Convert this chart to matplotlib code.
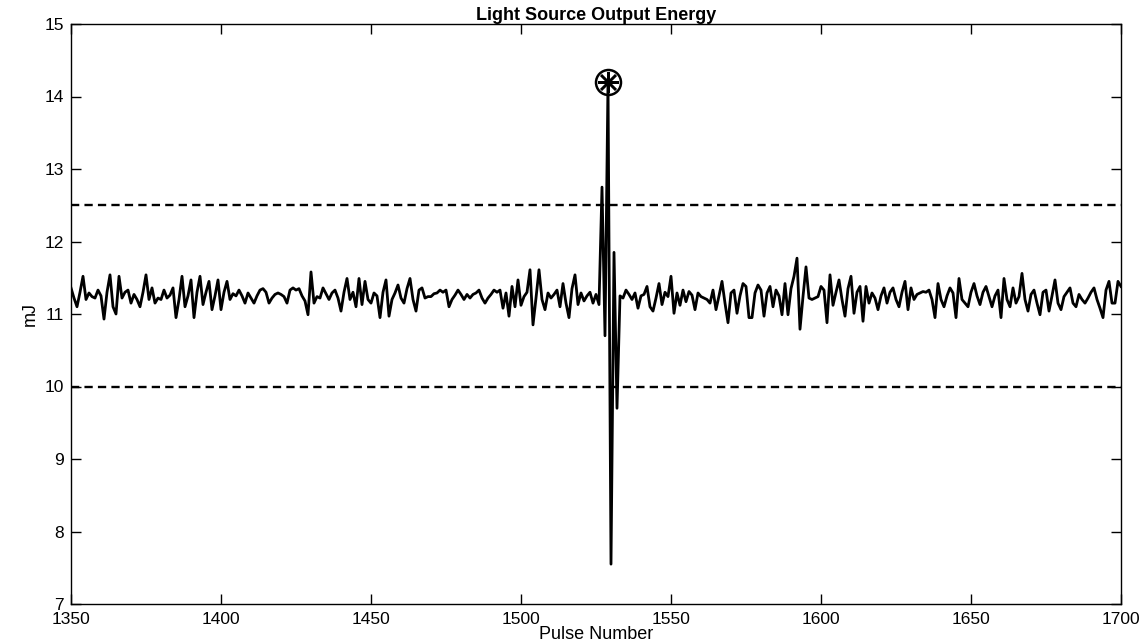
import numpy as np
import matplotlib
matplotlib.use("Agg")
import matplotlib.pyplot as plt

plt.rcParams['font.family'] = ['Liberation Sans', 'DejaVu Sans']

title = "Light Source Output Energy"
xlabel = "Pulse Number"
ylabel = "mJ"
x_start = 1350
upper_limit = 12.5
lower_limit = 10.0
x_ticks = [1350, 1400, 1450, 1500, 1550, 1600, 1650, 1700]
y_ticks = [7, 8, 9, 10, 11, 12, 13, 14, 15]

energy_1350 = [11.36, 11.22, 11.10, 11.30, 11.52, 11.20, 11.29, 11.24, 11.22, 11.33,
               11.25, 10.93, 11.30, 11.54, 11.10, 11.00, 11.52, 11.22, 11.30, 11.33,
               11.15, 11.27, 11.20, 11.10, 11.30, 11.54, 11.20, 11.36, 11.15, 11.22,
               11.20, 11.33, 11.22, 11.26, 11.36, 10.95, 11.20, 11.52, 11.10, 11.25,
               11.47, 10.95, 11.30, 11.52, 11.13, 11.30, 11.45, 11.06, 11.25, 11.47]
energy_1400 = [11.06, 11.30, 11.45, 11.20, 11.28, 11.25, 11.33, 11.25, 11.15, 11.29,
               11.22, 11.15, 11.25, 11.33, 11.35, 11.30, 11.15, 11.22, 11.27, 11.29,
               11.27, 11.24, 11.15, 11.33, 11.36, 11.33, 11.35, 11.25, 11.18, 10.99,
               11.58, 11.15, 11.24, 11.22, 11.36, 11.28, 11.20, 11.29, 11.33, 11.22,
               11.04, 11.30, 11.49, 11.20, 11.30, 11.10, 11.49, 11.13, 11.45, 11.20]
energy_1450 = [11.15, 11.29, 11.25, 10.95, 11.30, 11.47, 10.97, 11.20, 11.29, 11.40,
               11.22, 11.15, 11.35, 11.49, 11.20, 11.04, 11.33, 11.36, 11.22, 11.24,
               11.24, 11.28, 11.29, 11.33, 11.30, 11.33, 11.10, 11.20, 11.26, 11.33,
               11.27, 11.20, 11.27, 11.22, 11.27, 11.29, 11.33, 11.22, 11.15, 11.22,
               11.27, 11.33, 11.30, 11.33, 11.08, 11.29, 10.97, 11.38, 11.10, 11.47]
energy_1500 = [11.12, 11.24, 11.30, 11.61, 10.85, 11.22, 11.61, 11.20, 11.06, 11.29,
               11.22, 11.27, 11.33, 11.10, 11.42, 11.15, 10.95, 11.35, 11.54, 11.13,
               11.29, 11.18, 11.25, 11.30, 11.15, 11.27, 11.13, 12.75, 10.70, 14.20,
               7.55, 11.85, 9.70, 11.25, 11.22, 11.33, 11.27, 11.20, 11.29, 11.08,
               11.25, 11.27, 11.38, 11.10, 11.04, 11.22, 11.42, 11.13, 11.30, 11.24]
energy_1550 = [11.52, 11.01, 11.29, 11.12, 11.33, 11.17, 11.31, 11.26, 11.06, 11.29,
               11.24, 11.22, 11.20, 11.15, 11.33, 11.06, 11.25, 11.45, 11.15, 10.88,
               11.29, 11.33, 11.01, 11.25, 11.42, 11.38, 10.95, 10.95, 11.29, 11.40,
               11.33, 10.97, 11.29, 11.38, 11.10, 11.33, 11.25, 10.99, 11.42, 10.99,
               11.35, 11.52, 11.77, 10.79, 11.24, 11.65, 11.22, 11.20, 11.22, 11.24]
energy_1600 = [11.38, 11.33, 10.88, 11.54, 11.12, 11.30, 11.47, 11.20, 10.97, 11.35,
               11.52, 11.01, 11.30, 11.38, 10.90, 11.38, 11.15, 11.29, 11.22, 11.06,
               11.25, 11.36, 11.15, 11.30, 11.36, 11.20, 11.10, 11.30, 11.45, 11.06,
               11.36, 11.20, 11.27, 11.29, 11.31, 11.30, 11.33, 11.20, 10.95, 11.42,
               11.20, 11.10, 11.25, 11.36, 11.29, 10.95, 11.49, 11.20, 11.15, 11.10]
energy_1650 = [11.30, 11.42, 11.25, 11.13, 11.30, 11.38, 11.24, 11.10, 11.25, 11.33,
               10.95, 11.49, 11.20, 11.10, 11.36, 11.15, 11.24, 11.56, 11.20, 11.04,
               11.27, 11.33, 11.15, 10.99, 11.30, 11.33, 11.04, 11.25, 11.47, 11.15,
               11.06, 11.24, 11.30, 11.36, 11.15, 11.10, 11.27, 11.20, 11.15, 11.22,
               11.30, 11.36, 11.20, 11.08, 10.95, 11.33, 11.45, 11.15, 11.15, 11.45,
               11.38]

energy = (energy_1350 + energy_1400 + energy_1450 + energy_1500 +
          energy_1550 + energy_1600 + energy_1650)
pulses = np.arange(x_start, x_start + len(energy))
peak_idx = int(np.argmax(energy))

W, H = 1146, 643
fig = plt.figure(figsize=(W / 100, H / 100), dpi=100)
ax_left, ax_right, ax_top, ax_bottom = 71, 1121, 24, 604
ax = fig.add_axes([ax_left / W, 1 - ax_bottom / H,
                   (ax_right - ax_left) / W, (ax_bottom - ax_top) / H])

ax.plot(pulses, energy, color='black', linewidth=2.0)
ax.axhline(upper_limit, color='black', linestyle=(0, (3.5, 2.2)), linewidth=1.7)
ax.axhline(lower_limit, color='black', linestyle=(0, (3.5, 2.2)), linewidth=1.7)
ax.plot(pulses[peak_idx], energy[peak_idx], marker='o', markersize=18,
        markerfacecolor='none', markeredgecolor='black', markeredgewidth=1.8)
ax.plot(pulses[peak_idx], energy[peak_idx], marker=(8, 2, 0), markersize=15,
        color='black', markeredgewidth=1.8)

ax.set_xlim(1350, 1700)
ax.set_ylim(7, 15)
ax.set_xticks(x_ticks)
ax.set_yticks(y_ticks)
ax.tick_params(direction='in', length=7, width=1, top=True, right=True,
               labelsize=12.5)
ax.tick_params(axis='x', pad=6)
ax.tick_params(axis='y', pad=5)
for s in ax.spines.values():
    s.set_linewidth(1)

ax.set_title(title, fontsize=13, fontweight='bold', pad=3)
ax.set_xlabel(xlabel, fontsize=13, labelpad=-1)
ax.set_ylabel(ylabel, fontsize=13, labelpad=4)

fig.savefig("out.png", dpi=100)
